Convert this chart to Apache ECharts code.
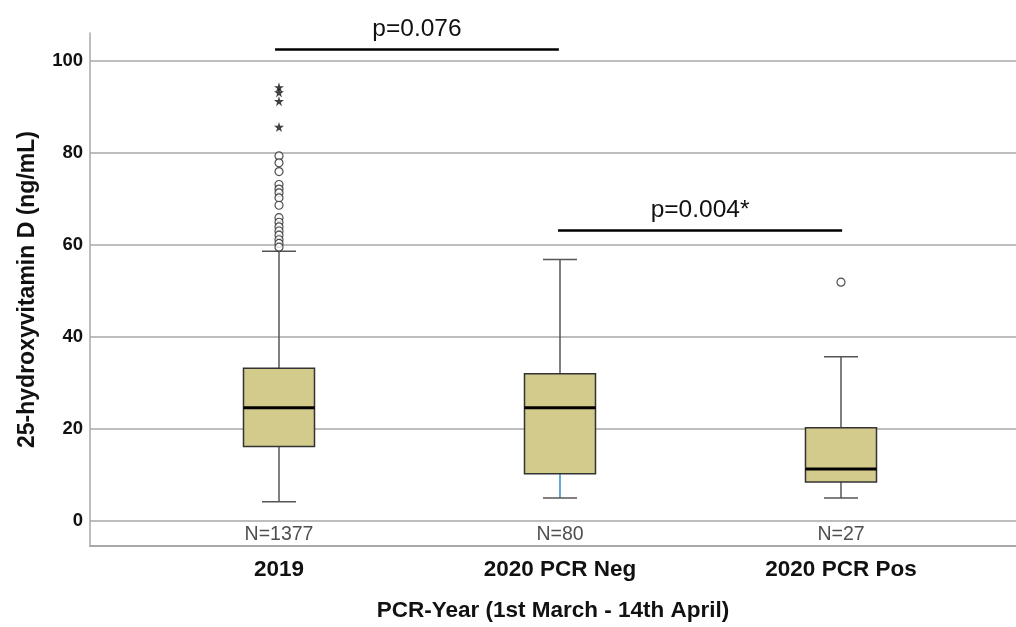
<!DOCTYPE html>
<html>
<head>
<meta charset="utf-8">
<script src="https://cdn.jsdelivr.net/npm/echarts@6/dist/echarts.min.js"></script>
<style>html,body{margin:0;padding:0;background:#fff}#c{width:1016px;height:627px}</style>
</head>
<body>
<div id="c"></div>
<script>
// ---- data ----
const categories = ['2019', '2020 PCR Neg', '2020 PCR Pos'];
const nLabels = ['N=1377', 'N=80', 'N=27'];
// [min whisker, Q1, median, Q3, max whisker]
const box2019 = [4.2, 16.2, 24.6, 33.2, 58.6];
const boxNeg = [5.0, 10.3, 24.6, 32.0, 56.8];
const boxPos = [5.0, 8.5, 11.3, 20.3, 35.7];
const outliers2019 = [79.3, 77.8, 75.9, 73.1, 72.1, 71.3, 70.2, 68.6, 65.9, 64.9, 63.9, 63.0, 62.1, 61.1, 60.3, 59.5];
const extremes2019 = [94.2, 93.1, 91.2, 85.6];
const outliersPos = [51.9];
const yTicks = [0, 20, 40, 60, 80, 100];
const pLabels = ['p=0.076', 'p=0.004*'];
const pLevels = [102.4, 63.1];

const boxes = [box2019, boxNeg, boxPos];
const chart = echarts.init(document.getElementById('c'), null, {renderer: 'canvas'});
const sans = '"Liberation Sans", Arial, sans-serif';
const starPath = 'path://M50,0 L61,35 L98,35 L68,57 L79,91 L50,70 L21,91 L32,57 L2,35 L39,35 Z';

const boxData = boxes.map((b, i) => [i].concat(b));
const circleData = outliers2019.map(v => [0, v]).concat(outliersPos.map(v => [2, v]));
const starData = extremes2019.map(v => [0, v]);
const nData = nLabels.map((t, i) => [i, -3.0, t]);

const option = {
  animation: false,
  backgroundColor: '#fff',
  grid: {left: 90, right: 0, top: 33, bottom: 77, containLabel: false},
  xAxis: {
    type: 'value', min: -0.6726, max: 2.6228,
    axisLine: {show: true, onZero: false, lineStyle: {color: '#a8a8a8', width: 2}},
    axisTick: {show: false},
    splitLine: {show: false},
    axisLabel: {
      customValues: [0, 1, 2],
      formatter: v => categories[Math.round(v)],
      fontFamily: sans, fontWeight: 'bold', fontSize: 22.5, color: '#111', margin: 12
    },
    name: 'PCR-Year (1st March - 14th April)',
    nameLocation: 'middle', nameGap: 53,
    nameTextStyle: {fontFamily: sans, fontWeight: 'bold', fontSize: 22.5, color: '#111'}
  },
  yAxis: {
    type: 'value', min: -5.4, max: 106,
    axisLine: {show: true, onZero: false, lineStyle: {color: '#a8a8a8', width: 1.5}},
    axisTick: {show: false, customValues: yTicks},
    splitLine: {show: true, lineStyle: {color: '#bdbdbd', width: 2}},
    axisLabel: {
      customValues: yTicks,
      fontFamily: sans, fontWeight: 'bold', fontSize: 18.5, color: '#111', margin: 7
    },
    name: '25-hydroxyvitamin D (ng/mL)',
    nameLocation: 'middle', nameGap: 51, nameRotate: 90,
    nameTextStyle: {fontFamily: sans, fontWeight: 'bold', fontSize: 23, color: '#111'}
  },
  series: [
    {
      type: 'custom',
      data: boxData,
      encode: {x: 0, y: [1, 2, 3, 4, 5]},
      z: 3,
      renderItem: function (params, api) {
        const x = api.value(0);
        const w = api.size([0.2527, 0])[0];
        const cw = api.size([0.121, 0])[0];
        const pMin = api.coord([x, api.value(1)]);
        const pQ1 = api.coord([x, api.value(2)]);
        const pMed = api.coord([x, api.value(3)]);
        const pQ3 = api.coord([x, api.value(4)]);
        const pMax = api.coord([x, api.value(5)]);
        const cx = pMed[0];
        const lowColor = x === 1 ? '#2a8fd0' : '#555';
        return {
          type: 'group',
          children: [
            {type: 'line', shape: {x1: cx, y1: pMax[1], x2: cx, y2: pQ3[1]}, style: {stroke: '#555', lineWidth: 1.5}},
            {type: 'line', shape: {x1: cx, y1: pQ1[1], x2: cx, y2: pMin[1]}, style: {stroke: lowColor, lineWidth: 1.5}},
            {type: 'line', shape: {x1: cx - cw / 2, y1: pMax[1], x2: cx + cw / 2, y2: pMax[1]}, style: {stroke: '#555', lineWidth: 1.5}},
            {type: 'line', shape: {x1: cx - cw / 2, y1: pMin[1], x2: cx + cw / 2, y2: pMin[1]}, style: {stroke: '#555', lineWidth: 1.5}},
            {type: 'rect', shape: {x: cx - w / 2, y: pQ3[1], width: w, height: pQ1[1] - pQ3[1]},
              style: {fill: '#d2cb8c', stroke: '#333', lineWidth: 1.5}},
            {type: 'line', shape: {x1: cx - w / 2, y1: pMed[1], x2: cx + w / 2, y2: pMed[1]}, style: {stroke: '#000', lineWidth: 3}}
          ]
        };
      }
    },
    {
      type: 'scatter', data: circleData, symbol: 'circle', symbolSize: 8, z: 4,
      itemStyle: {color: '#fff', borderColor: '#222', borderWidth: 1.2}
    },
    {
      type: 'scatter', data: starData, symbol: starPath, symbolSize: 10, z: 4,
      itemStyle: {color: '#111'}
    },
    {
      type: 'scatter', data: nData, symbolSize: 0, z: 4, silent: true,
      label: {show: true, position: 'inside', formatter: p => p.data[2],
        fontFamily: sans, fontSize: 19.5, color: '#222'},
      markLine: {
        silent: true, symbol: 'none',
        lineStyle: {color: '#000', width: 2.5, type: 'solid'},
        label: {show: true, position: 'insideMiddleTop', distance: 8,
          fontFamily: sans, fontSize: 24.5, color: '#111',
          formatter: p => p.name},
        data: [
          [{name: pLabels[0], coord: [-0.014, pLevels[0]]}, {coord: [0.996, pLevels[0]]}],
          [{name: pLabels[1], coord: [0.993, pLevels[1]]}, {coord: [2.004, pLevels[1]]}]
        ]
      }
    }
  ]
};
chart.setOption(option);
</script>
</body>
</html>
